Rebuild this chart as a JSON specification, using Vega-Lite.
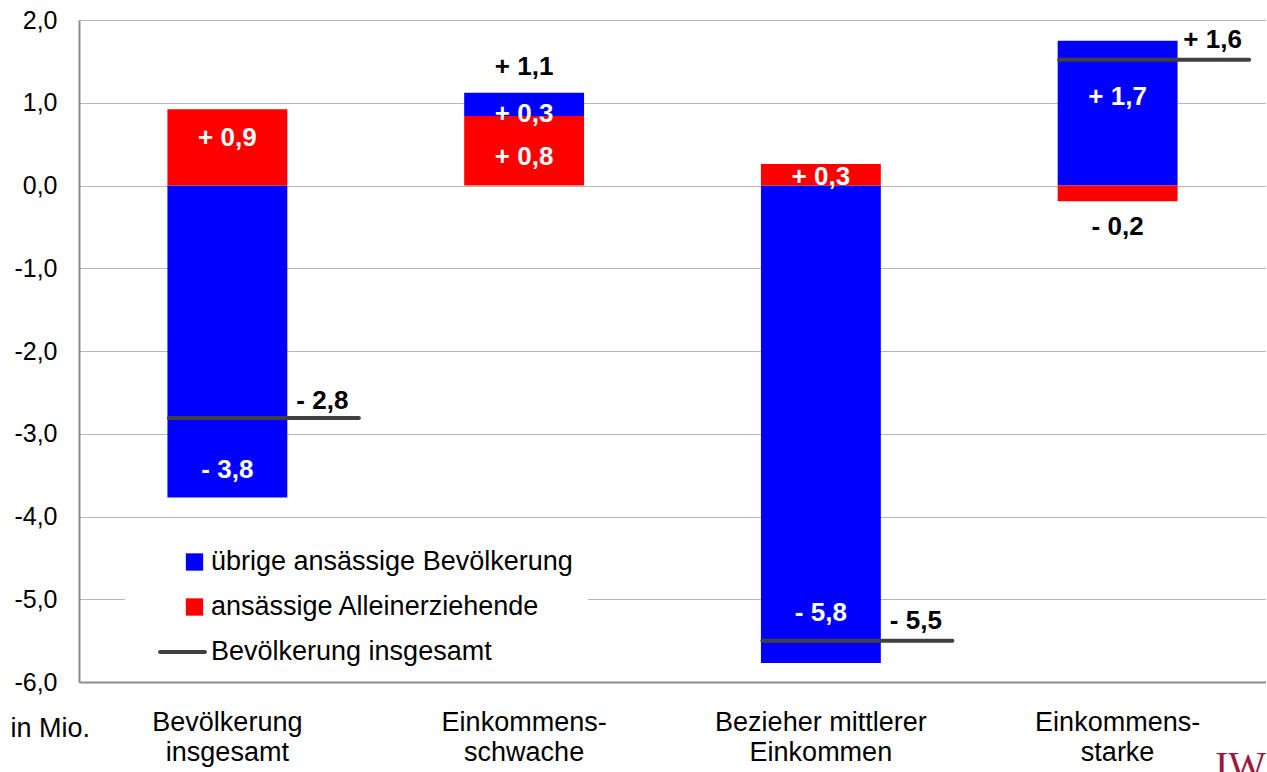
{
  "$schema": "https://vega.github.io/schema/vega-lite/v6.json",
  "width": 1187,
  "height": 662,
  "autosize": {"type": "none"},
  "padding": {"left": 79, "top": 20, "right": 0, "bottom": 90},
  "background": "white",
  "config": {
    "view": {"stroke": "#a6a6a6", "strokeWidth": 1},
    "font": "Liberation Sans",
    "axis": {"labelFont": "Liberation Sans", "titleFont": "Liberation Sans", "labelColor": "black", "titleColor": "black"}
  },
  "title": {
    "text": "IW",
    "orient": "bottom",
    "anchor": "end",
    "font": "Liberation Serif",
    "fontSize": 40,
    "fontWeight": "normal",
    "color": "#9a1a41",
    "offset": -18
  },
  "datasets": {
    "balken": [
      {"gruppe": "Bevölkerung insgesamt", "reihe": "übrige ansässige Bevölkerung", "wert": -3.77},
      {"gruppe": "Bevölkerung insgesamt", "reihe": "ansässige Alleinerziehende", "wert": 0.92},
      {"gruppe": "Einkommensschwache", "reihe": "übrige ansässige Bevölkerung", "wert": 0.28},
      {"gruppe": "Einkommensschwache", "reihe": "ansässige Alleinerziehende", "wert": 0.84},
      {"gruppe": "Bezieher mittlerer Einkommen", "reihe": "übrige ansässige Bevölkerung", "wert": -5.77},
      {"gruppe": "Bezieher mittlerer Einkommen", "reihe": "ansässige Alleinerziehende", "wert": 0.26},
      {"gruppe": "Einkommensstarke", "reihe": "übrige ansässige Bevölkerung", "wert": 1.75},
      {"gruppe": "Einkommensstarke", "reihe": "ansässige Alleinerziehende", "wert": -0.19}
    ],
    "gesamt": [
      {"gruppe": "Bevölkerung insgesamt", "reihe": "Bevölkerung insgesamt", "wert": -2.81},
      {"gruppe": "Bezieher mittlerer Einkommen", "reihe": "Bevölkerung insgesamt", "wert": -5.5},
      {"gruppe": "Einkommensstarke", "reihe": "Bevölkerung insgesamt", "wert": 1.52}
    ],
    "beschriftung": [
      {"gruppe": "Bevölkerung insgesamt", "text": "+ 0,9", "art": "innen", "position": 0.58},
      {"gruppe": "Bevölkerung insgesamt", "text": "- 3,8", "art": "innen", "position": -3.44},
      {"gruppe": "Bevölkerung insgesamt", "text": "- 2,8", "art": "gesamt", "position": -2.6},
      {"gruppe": "Einkommensschwache", "text": "+ 1,1", "art": "außen", "position": 1.43},
      {"gruppe": "Einkommensschwache", "text": "+ 0,3", "art": "innen", "position": 0.86},
      {"gruppe": "Einkommensschwache", "text": "+ 0,8", "art": "innen", "position": 0.34},
      {"gruppe": "Bezieher mittlerer Einkommen", "text": "+ 0,3", "art": "innen", "position": 0.1},
      {"gruppe": "Bezieher mittlerer Einkommen", "text": "- 5,8", "art": "innen", "position": -5.17},
      {"gruppe": "Bezieher mittlerer Einkommen", "text": "- 5,5", "art": "gesamt", "position": -5.26},
      {"gruppe": "Einkommensstarke", "text": "+ 1,7", "art": "innen", "position": 1.07},
      {"gruppe": "Einkommensstarke", "text": "+ 1,6", "art": "gesamt", "position": 1.76},
      {"gruppe": "Einkommensstarke", "text": "- 0,2", "art": "außen", "position": -0.5}
    ]
  },
  "layer": [
    {
      "data": {"name": "balken"},
      "mark": {"type": "bar", "width": {"band": 0.404}},
      "encoding": {
        "x": {
          "field": "gruppe",
          "type": "nominal",
          "scale": {
            "domain": ["Bevölkerung insgesamt", "Einkommensschwache", "Bezieher mittlerer Einkommen", "Einkommensstarke"],
            "paddingInner": 0,
            "paddingOuter": 0
          },
          "axis": {
            "title": null,
            "labelAngle": 0,
            "labelFontSize": 27,
            "labelLineHeight": 30,
            "labelPadding": 27,
            "labelBaseline": "top",
            "labelLimit": 500,
            "ticks": false,
            "domain": true,
            "domainColor": "#8c8c8c",
            "domainWidth": 2,
            "labelExpr": "datum.label == 'Bevölkerung insgesamt' ? ['Bevölkerung', 'insgesamt'] : datum.label == 'Einkommensschwache' ? ['Einkommens-', 'schwache'] : datum.label == 'Bezieher mittlerer Einkommen' ? ['Bezieher mittlerer', 'Einkommen'] : ['Einkommens-', 'starke']"
          }
        },
        "y": {
          "field": "wert",
          "type": "quantitative",
          "stack": "zero",
          "scale": {"domain": [-6, 2], "nice": false, "zero": false},
          "axis": {
            "values": [-6, -5, -4, -3, -2, -1, 0, 1, 2],
            "grid": true,
            "gridColor": "#b7b7b7",
            "gridWidth": 1,
            "ticks": false,
            "domain": true,
            "domainColor": "#8c8c8c",
            "domainWidth": 2,
            "labelPadding": 22,
            "labelFontSize": 25,
            "labelExpr": "replace((datum.value < 0 ? '-' : '') + format(abs(datum.value), '.1f'), '.', ',')",
            "title": "in Mio.",
            "titleAngle": 0,
            "titleX": -69,
            "titleY": 708,
            "titleAlign": "left",
            "titleBaseline": "middle",
            "titleFontSize": 27,
            "titleFontWeight": "normal"
          }
        },
        "color": {
          "field": "reihe",
          "type": "nominal",
          "scale": {
            "domain": ["übrige ansässige Bevölkerung", "ansässige Alleinerziehende", "Bevölkerung insgesamt"],
            "range": ["#0000ff", "#ff0000", "#404040"]
          },
          "legend": {
            "title": null,
            "orient": "none",
            "legendX": 46,
            "legendY": 513.5,
            "direction": "vertical",
            "fillColor": "white",
            "padding": 15,
            "labelFont": "Liberation Sans",
            "labelFontSize": 27,
            "labelColor": "black",
            "labelLimit": 800,
            "symbolType": "square",
            "symbolSize": 300,
            "symbolOffset": 41,
            "labelOffset": 3,
            "rowPadding": 17,
            "symbolStrokeWidth": 0,
            "encode": {
              "symbols": {
                "update": {
                  "shape": {"signal": "datum.value === 'Bevölkerung insgesamt' ? 'M-3.98,0L1.21,0' : 'square'"},
                  "stroke": {"signal": "datum.value === 'Bevölkerung insgesamt' ? '#404040' : 'transparent'"},
                  "strokeWidth": {"signal": "datum.value === 'Bevölkerung insgesamt' ? 4 : 0"},
                  "strokeCap": {"value": "round"}
                }
              }
            }
          }
        },
        "order": {"field": "reihe", "sort": "ascending"}
      }
    },
    {
      "mark": {"type": "rule", "color": "#878787", "strokeWidth": 4},
      "encoding": {"y": {"datum": 0}}
    },
    {
      "data": {"name": "gesamt"},
      "mark": {"type": "tick", "size": 194, "thickness": 4, "xOffset": 36.5, "cornerRadius": 2, "opacity": 1},
      "encoding": {
        "x": {"field": "gruppe", "type": "nominal"},
        "y": {"field": "wert", "type": "quantitative"},
        "color": {"field": "reihe", "type": "nominal"}
      }
    },
    {
      "data": {"name": "beschriftung"},
      "transform": [{"filter": "datum.art != 'gesamt'"}],
      "mark": {"type": "text", "font": "Liberation Sans", "fontSize": 26, "fontWeight": "bold", "baseline": "middle", "align": "center"},
      "encoding": {
        "x": {"field": "gruppe", "type": "nominal"},
        "y": {"field": "position", "type": "quantitative"},
        "text": {"field": "text"},
        "color": {"condition": {"test": "datum.art == 'innen'", "value": "white"}, "value": "black"}
      }
    },
    {
      "data": {"name": "beschriftung"},
      "transform": [{"filter": "datum.art == 'gesamt'"}],
      "mark": {"type": "text", "font": "Liberation Sans", "fontSize": 26, "fontWeight": "bold", "baseline": "middle", "align": "center", "dx": 95},
      "encoding": {
        "x": {"field": "gruppe", "type": "nominal"},
        "y": {"field": "position", "type": "quantitative"},
        "text": {"field": "text"},
        "color": {"value": "black"}
      }
    }
  ]
}
